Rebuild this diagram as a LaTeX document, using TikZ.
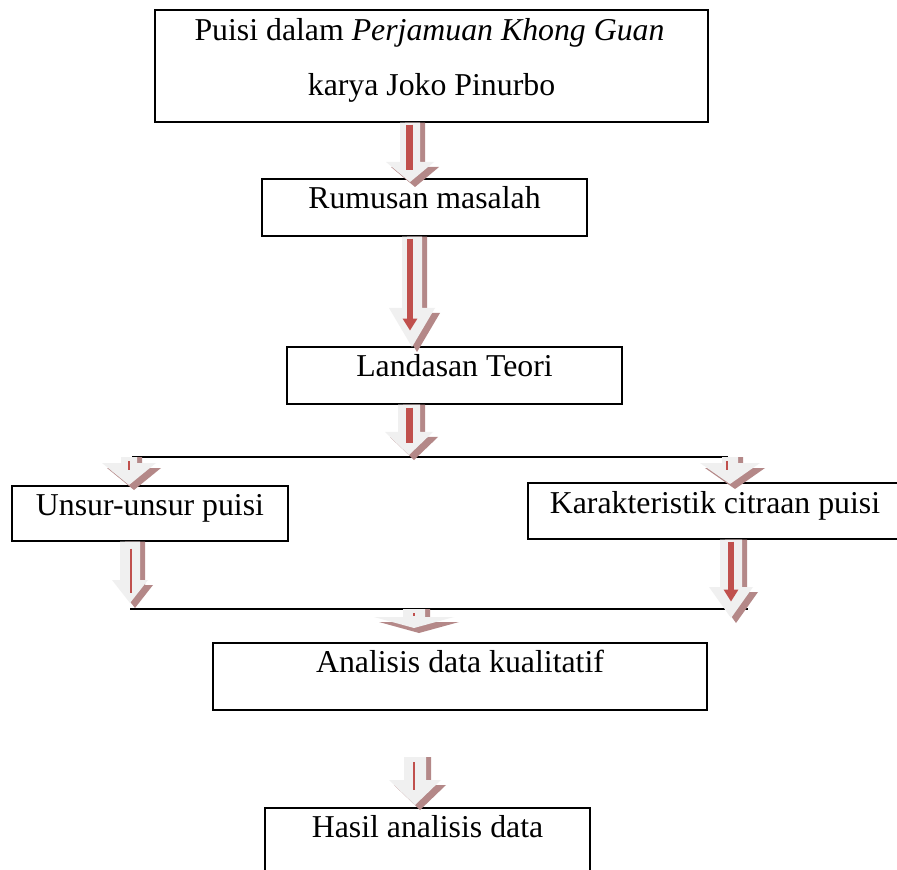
\documentclass[tikz,border=0pt]{standalone}
\usepackage{fontspec}
\setmainfont{Liberation Serif}
\usepackage{tikz}
\usetikzlibrary{calc,positioning}
\usetikzlibrary{arrows.meta}

\definecolor{arrowface}{RGB}{240,240,240}
\definecolor{arrowshadow}{RGB}{180,136,136}
\definecolor{arrowred}{RGB}{192,80,77}

\tikzset{
  box/.style={draw, line width=0.6pt, inner sep=0pt},
  lbl/.style={anchor=base, inner sep=0pt, font=\fontsize{15.9}{19}\selectfont},
  redbar/.style={draw=arrowred, line cap=butt},
  rule/.style={line width=1pt}
}

% block arrow with a drop shadow, from #1 down to the tip #2
% #3 head length, #4 shaft half width, #5 head half width (all in px)
\def\u{0.5pt}
\def\s{2.5pt}
\newcommand{\blockarrow}[5]{%
  \fill[arrowshadow] let \p1=(#1), \p2=(#2) in
    (\x1-#4*\u+\s,\y1) -- (\x1+#4*\u+\s,\y1) -- (\x1+#4*\u+\s,\y2+#3*\u-\s)
    -- (\x1+#5*\u+\s,\y2+#3*\u-\s) -- (\x2+\s,\y2-\s)
    -- (\x1-#5*\u+\s,\y2+#3*\u-\s) -- (\x1-#4*\u+\s,\y2+#3*\u-\s) -- cycle;
  \fill[arrowface] let \p1=(#1), \p2=(#2) in
    (\x1-#4*\u,\y1) -- (\x1+#4*\u,\y1) -- (\x1+#4*\u,\y2+#3*\u)
    -- (\x1+#5*\u,\y2+#3*\u) -- (\x2,\y2)
    -- (\x1-#5*\u,\y2+#3*\u) -- (\x1-#4*\u,\y2+#3*\u) -- cycle;
}

\begin{document}
\begin{tikzpicture}[x=0.5pt, y=-0.5pt]
  % --- Page ---
  \fill[white] (0,0) rectangle (897,870);
  \useasboundingbox (0,0) rectangle (897,870);

  % --- 1. Boxes ---
  \node[box, minimum width=276.5pt, minimum height=56pt] (b1) at (431.5,66) {};
  \node[box, minimum width=162.5pt, minimum height=28.5pt] (b2) at (424.5,207.5) {};
  \node[box, minimum width=167.5pt, minimum height=28.5pt] (b3) at (454.5,375.5) {};
  \node[box, minimum width=138pt, minimum height=27.5pt] (b4) at (150,513.5) {};
  \node[box, minimum width=187pt, minimum height=28pt] (b5) at (715,511) {};
  \node[box, minimum width=247pt, minimum height=33.5pt] (b6) at (460,676.5) {};
  \node[box, minimum width=162.5pt, minimum height=35pt] (b7) at (427.5,843) {};

  % --- 2. Texts ---
  \node[lbl] (t1a) at ($(b1.north)+(-2,31)$) {Puisi dalam \textit{Perjamuan Khong Guan}};
  \node[lbl] (t1b) at ($(b1.north)+(0,86)$) {karya Joko Pinurbo};
  \node[lbl] (t2) at ($(b2.north)+(0,30)$) {Rumusan masalah};
  \node[lbl] (t3) at ($(b3.north)+(0,30)$) {Landasan Teori};
  \node[lbl] (t4) at ($(b4.north)+(0,30)$) {Unsur-unsur puisi};
  \node[lbl] (t5) at ($(b5.north)+(0,31)$) {Karakteristik citraan puisi};
  \node[lbl] (t6) at ($(b6.north)+(0,30)$) {Analisis data kualitatif};
  \node[lbl] (t7) at ($(b7.north)+(0,30)$) {Hasil analisis data};

  % --- 3. Branch rules ---
  \coordinate (l1w) at (132,457);
  \coordinate (l1e) at (728,457);
  \coordinate (l2w) at (130,609);
  \coordinate (l2e) at (748,609);
  \draw[rule] (l1w) -- (l1e);
  \draw[rule] (l2w) -- (l2e);

  % --- 4. Block arrows ---
  \coordinate (a1s) at ($(b1.south)+(-21.5,0)$);   \coordinate (a1e) at (410,182);
  \coordinate (a2s) at ($(b2.south)+(-12.5,0)$);   \coordinate (a2e) at (412,347);
  \coordinate (a3s) at ($(b3.south)+(-45.5,0)$);   \coordinate (a3e) at (409,455);
  \coordinate (a4s) at (129,0 |- l1w);             \coordinate (a4e) at (129,485);
  \coordinate (a5s) at (730,0 |- l1e);             \coordinate (a5e) at (730,484);
  \coordinate (a6s) at ($(b4.south)+(-20,0)$);     \coordinate (a6e) at (130,603);
  \coordinate (a7s) at ($(b5.south)+(16,0)$);      \coordinate (a7e) at (731,618);
  \coordinate (a8s) at (414,0 |- l2w);             \coordinate (a8e) at (414,628);
  \coordinate (a9s) at (415,757);                  \coordinate (a9e) at (415,805);

  \blockarrow{a1s}{a1e}{20}{10}{24}
  \blockarrow{a2s}{a2e}{39}{10}{23}
  \blockarrow{a3s}{a3e}{23}{11}{24}
  \blockarrow{a4s}{a4e}{22}{8}{27}
  \blockarrow{a5s}{a5e}{21}{8}{30}
  \blockarrow{a6s}{a6e}{23}{10}{18}
  \blockarrow{a7s}{a7e}{31}{11}{22}
  \blockarrow{a8s}{a8e}{11}{11}{40}
  \blockarrow{a9s}{a9e}{25}{11}{26}

  % red inner bars
  \draw[redbar, line width=3.5pt] ($(a1s)+(-1,2)$) -- ($(a1s)+(-1,47)$);
  \draw[redbar, line width=3pt, -{Triangle[width=7pt,length=6pt]}] ($(a2s)+(-2,2)$) -- ($(a2s)+(-2,94)$);
  \draw[redbar, line width=3.5pt] ($(a3s)+(0,3)$) -- ($(a3s)+(0,38)$);
  \draw[redbar, line width=0.8pt] ($(a4s)+(0,4)$) -- ($(a4s)+(0,13)$);
  \draw[redbar, line width=0.8pt] ($(a5s)+(-3,4)$) -- ($(a5s)+(-3,13)$);
  \draw[redbar, line width=0.8pt] ($(a6s)+(1,7)$) -- ($(a6s)+(1,51)$);
  \draw[redbar, line width=3pt, -{Triangle[width=7pt,length=6pt]}] ($(a7s)+(0,2)$) -- ($(a7s)+(0,62)$);
  \draw[redbar, line width=0.8pt] ($(a8s)+(0,4)$) -- ($(a8s)+(0,7)$);
  \draw[redbar, line width=1pt] ($(a9s)+(-1,5)$) -- ($(a9s)+(-1,33)$);
\end{tikzpicture}
\end{document}
